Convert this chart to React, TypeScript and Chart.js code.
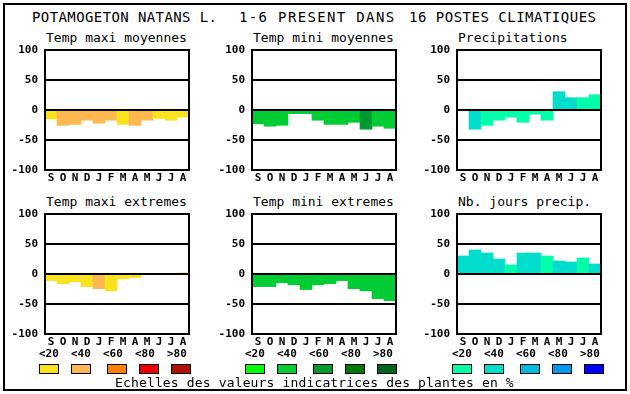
import React, { useEffect, useRef } from 'react';
import { Chart, registerables } from 'chart.js';
Chart.register(...registerables);

const FONT = '"DejaVu Sans Mono", monospace';

const MONTHS = ['S', 'O', 'N', 'D', 'J', 'F', 'M', 'A', 'M', 'J', 'J', 'A'];
const CLASS_LABELS = ['<20', '<40', '<60', '<80', '>80'];

const WARM = ['#FAE31E', '#FFB84F', '#FF7F00', '#EE0000', '#B01000'];
const GREEN = ['#00FF00', '#00CC33', '#009A2E', '#007A00', '#006420'];
const BLUE = ['#00FFAA', '#00DDCC', '#00BBDD', '#0099EE', '#0000FF'];

const TMAX_MOY = [-15, -25.5, -24, -17, -22, -17, -24, -25.5, -17, -14, -17, -12];
const TMAX_MOY_CLS = [0, 1, 1, 1, 1, 1, 0, 1, 1, 0, 0, 0];

const TMIN_MOY = [-23, -27, -25.5, -6, -6, -17, -24, -24, -20.5, -32, -27, -30.5];
const TMIN_MOY_CLS = [1, 1, 1, 1, 1, 1, 1, 1, 1, 2, 1, 1];

const PRECIP = [0, -32, -25.5, -17, -12, -20.5, -7, -17, 30.5, 20.5, 20.5, 25.5];
const PRECIP_CLS = [0, 1, 0, 0, 0, 0, 0, 0, 1, 1, 0, 0];

const TMAX_EXT = [-11, -16, -13, -21, -24.5, -28, -8, -6, 0, 0, 0, 2];
const TMAX_EXT_CLS = [0, 0, 0, 0, 1, 0, 0, 0, 0, 0, 0, 0];

const TMIN_EXT = [-21, -21, -14.5, -18, -26, -18, -16, -11, -24.5, -28, -41, -44.5];
const TMIN_EXT_CLS = [1, 1, 1, 1, 1, 1, 1, 1, 1, 1, 1, 1];

const NB_JOURS = [30, 40, 35, 25, 15, 35, 35, 30, 21.7, 20, 26.7, 16.7];
const NB_JOURS_CLS = [1, 1, 1, 1, 0, 1, 1, 0, 1, 1, 0, 1];

const PANELS = [
  { title: 'Temp maxi moyennes', values: TMAX_MOY, cls: TMAX_MOY_CLS, pal: WARM, left: 45, top: 50 },
  { title: 'Temp mini moyennes', values: TMIN_MOY, cls: TMIN_MOY_CLS, pal: GREEN, left: 252, top: 50 },
  { title: 'Precipitations', values: PRECIP, cls: PRECIP_CLS, pal: BLUE, left: 457, top: 50 },
  { title: 'Temp maxi extremes', values: TMAX_EXT, cls: TMAX_EXT_CLS, pal: WARM, left: 45, top: 214 },
  { title: 'Temp mini extremes', values: TMIN_EXT, cls: TMIN_EXT_CLS, pal: GREEN, left: 252, top: 214 },
  { title: 'Nb. jours precip.', values: NB_JOURS, cls: NB_JOURS_CLS, pal: BLUE, left: 457, top: 214 },
];

const LEGENDS = [
  { pal: WARM, left: 39 },
  { pal: GREEN, left: 245 },
  { pal: BLUE, left: 452 },
];
const LABEL_OFFSETS = [0, 32, 64, 96, 128];
const SWATCH_OFFSETS = [0, 32, 68, 100, 132];

const PLOT_W = 144;
const PLOT_H = 120;
const YAXIS_W = 40;
const PAD_TOP = 16;
const PAD_RIGHT = 4;
const XAXIS_H = 18;

const framePlugin = {
  id: 'frame',
  afterDatasetsDraw(chart: any) {
    const { ctx, chartArea: a, scales } = chart;
    const y = scales.y;
    ctx.save();
    ctx.strokeStyle = '#000';
    ctx.lineWidth = 2;
    ctx.strokeRect(a.left, a.top, a.right - a.left, a.bottom - a.top);
    [50, 0, -50].forEach((v) => {
      const py = Math.round(y.getPixelForValue(v));
      ctx.beginPath();
      ctx.moveTo(a.left, py);
      ctx.lineTo(a.right, py);
      ctx.stroke();
    });
    ctx.restore();
  },
};

function Panel({ p }: { p: any }) {
  const ref = useRef<HTMLCanvasElement>(null);
  useEffect(() => {
    const chart = new Chart(ref.current as HTMLCanvasElement, {
      type: 'bar',
      data: {
        labels: MONTHS,
        datasets: [
          {
            data: p.values,
            backgroundColor: p.cls.map((c: number) => p.pal[c]),
            borderWidth: 0,
            categoryPercentage: 1,
            barPercentage: 1,
          },
        ],
      },
      options: {
        animation: false,
        responsive: false,
        devicePixelRatio: 1,
        layout: { padding: { top: PAD_TOP, right: PAD_RIGHT, left: 0, bottom: 0 } },
        plugins: { legend: { display: false }, tooltip: { enabled: false } },
        scales: {
          x: {
            grid: { display: false, drawTicks: false },
            border: { display: false },
            ticks: {
              autoSkip: false,
              maxRotation: 0,
              padding: 2,
              color: '#000',
              font: { family: FONT, size: 11, weight: 'bold' },
            },
            afterFit(s: any) {
              s.height = XAXIS_H;
            },
          },
          y: {
            min: -100,
            max: 100,
            grid: { display: false, drawTicks: false },
            border: { display: false },
            ticks: {
              stepSize: 50,
              padding: 7,
              color: '#000',
              font: { family: FONT, size: 11, weight: 'bold' },
            },
            afterFit(s: any) {
              s.width = YAXIS_W;
            },
          },
        },
      } as any,
      plugins: [framePlugin],
    });
    return () => chart.destroy();
  }, []);
  return (
    <canvas
      ref={ref}
      width={YAXIS_W + PLOT_W + PAD_RIGHT}
      height={PAD_TOP + PLOT_H + XAXIS_H}
      style={{
        position: 'absolute',
        left: p.left - YAXIS_W,
        top: p.top - PAD_TOP,
        width: YAXIS_W + PLOT_W + PAD_RIGHT,
        height: PAD_TOP + PLOT_H + XAXIS_H,
      }}
    />
  );
}

const txt = (extra: any) => ({
  position: 'absolute' as const,
  fontFamily: FONT,
  whiteSpace: 'pre' as const,
  color: '#000',
  margin: 0,
  ...extra,
});

export default function App() {
  return (
    <div style={{ position: 'absolute', left: 0, top: 0, width: 630, height: 394, background: '#fff', overflow: 'hidden' }}>
      <div style={{ position: 'absolute', left: 3, top: 3, width: 624, height: 388, border: '2px solid #000', boxSizing: 'border-box' }} />
      <div style={txt({ left: 32, top: 10, fontSize: 14, lineHeight: '14px', letterSpacing: '0.4px' })}>POTAMOGETON NATANS L.</div>
      <div style={txt({ left: 239, top: 10, fontSize: 14, lineHeight: '14px', letterSpacing: '1.35px' })}>1-6 PRESENT DANS</div>
      <div style={txt({ left: 409, top: 10, fontSize: 14, lineHeight: '14px', letterSpacing: '0.5px' })}>16 POSTES CLIMATIQUES</div>
      {PANELS.map((p, i) => (
        <div key={'t' + i} style={txt({ left: p.left + 1, top: p.top - 19, fontSize: 13, lineHeight: '13px' })}>
          {p.title}
        </div>
      ))}
      {PANELS.map((p, i) => (
        <Panel key={'p' + i} p={p} />
      ))}
      {LEGENDS.map((g, gi) =>
        CLASS_LABELS.map((lab, i) => (
          <div key={'l' + gi + '-' + i} style={txt({ left: g.left + LABEL_OFFSETS[i], top: 348, fontSize: 11, lineHeight: '11px', fontWeight: 'bold' })}>
            {lab}
          </div>
        ))
      )}
      {LEGENDS.map((g, gi) =>
        g.pal.map((c, i) => (
          <div
            key={'s' + gi + '-' + i}
            style={{
              position: 'absolute',
              left: g.left + SWATCH_OFFSETS[i],
              top: 364,
              width: 20,
              height: 10,
              background: c,
              border: '1px solid #000',
              boxSizing: 'border-box',
            }}
          />
        ))
      )}
      <div style={txt({ left: 115, top: 376, fontSize: 13, lineHeight: '13px', letterSpacing: '0.15px' })}>
        Echelles des valeurs indicatrices des plantes en %
      </div>
    </div>
  );
}
